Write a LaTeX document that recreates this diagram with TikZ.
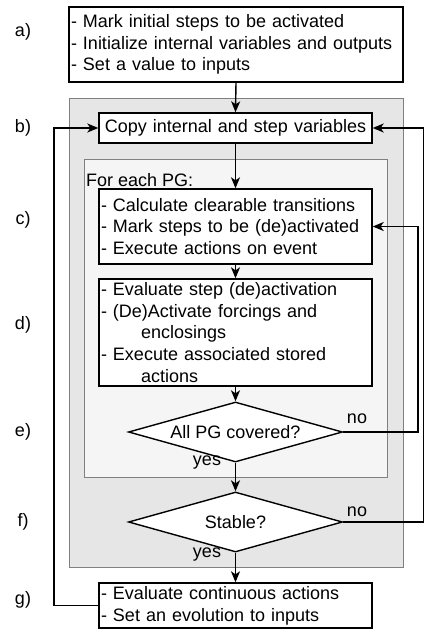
\documentclass[tikz,border=0pt]{standalone}
\usepackage{fontspec}
\setmainfont{Liberation Sans}
\usetikzlibrary{arrows.meta,shapes.geometric}
\definecolor{outerfill}{HTML}{E6E6E6}
\definecolor{innerfill}{HTML}{F5F5F5}
\definecolor{framegray}{HTML}{808080}
\begin{document}
\begin{tikzpicture}[x=1pt,y=-1pt,
  font=\fontsize{18}{21.7}\selectfont,
  box/.style={draw=black, line width=1.4pt, fill=white, inner xsep=2pt, inner ysep=0pt, align=left},
  dia/.style={draw=black, line width=1.4pt, fill=white, shape=diamond, aspect=3.57, inner sep=0pt, minimum width=214pt, minimum height=60pt},
  frame/.style={draw=framegray, line width=1.4pt},
  conn/.style={draw=black, line width=1.4pt, -{Stealth[length=11pt,width=9pt,inset=3pt]}},
  lbl/.style={inner sep=0pt}]
\useasboundingbox (0,0) rectangle (424,629);
% containers
\node[frame, fill=outerfill, anchor=north west, minimum width=334pt, minimum height=469pt, inner sep=0pt] (outer) at (69,98) {};
\node[frame, fill=innerfill, anchor=north west, minimum width=303pt, minimum height=318pt, inner sep=0pt] (inner) at (84,159) {};
\node[lbl, anchor=west] (foreach) at (86,180) {For each PG:};
% steps
\node[box, minimum width=334pt, minimum height=75pt, text width=330pt] (a) at (236,44.5)
  {- Mark initial steps to be activated\\- Initialize internal variables and outputs\\- Set a value to inputs};
\node[box, minimum width=273pt, minimum height=30pt, text width=269pt, align=center] (b) at (235.5,128)
  {Copy internal and step variables};
\node[box, minimum width=273pt, minimum height=75pt, text width=269pt] (c) at (235.5,226.5)
  {- Calculate clearable transitions\\- Mark steps to be (de)activated\\- Execute actions on event};
\node[box, minimum width=273pt, minimum height=107pt, text width=269pt] (d) at (235.5,332.5)
  {- Evaluate step (de)activation\\- (De)Activate forcings and\\\hspace*{40pt}enclosings\\- Execute associated stored\\\hspace*{40pt}actions};
\node[dia] (e) at (235.5,432) {All PG covered?};
\node[dia] (f) at (235.5,522) {Stable?};
\node[box, minimum width=273pt, minimum height=45pt, text width=269pt] (g) at (235.5,605.5)
  {- Evaluate continuous actions\\- Set an evolution to inputs};
% side labels
\node[lbl] (la) at (23,32) {a)};
\node[lbl] (lb) at (23,128) {b)};
\node[lbl] (lc) at (23,220) {c)};
\node[lbl] (ld) at (23,325) {d)};
\node[lbl] (le) at (23,432) {e)};
\node[lbl] (lf) at (23,522) {f)};
\node[lbl] (lg) at (23,600) {g)};
% connectors
\draw[conn] (a.south) -- (b.north);
\draw[conn] (b.south) -- (c.north);
\draw[conn] (c.south) -- (d.north);
\draw[conn] (d.south) -- (e.north);
\draw[conn] (e.south) -- (f.north);
\draw[conn] (f.south) -- (g.north);
\coordinate (gl) at (54,605.5);
\coordinate (er) at (418,432);
\coordinate (fr) at (423.3,522);
\draw[conn] (g.west) -- (gl) |- (b.west);
\draw[conn] (e.east) -- (er) |- (c.east);
\draw[conn] (f.east) -- (fr) |- (b.east);
% branch labels
\node[lbl] (eno) at (357,419) {no};
\node[lbl] (fno) at (357,512) {no};
\node[lbl] (eyes) at (207,463) {yes};
\node[lbl] (fyes) at (207,555) {yes};
\end{tikzpicture}
\end{document}
